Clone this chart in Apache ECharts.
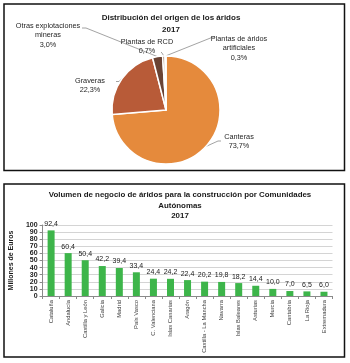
<!DOCTYPE html>
<html><head><meta charset="utf-8">
<script src="https://cdn.jsdelivr.net/npm/echarts@6/dist/echarts.min.js"></script>
<style>html,body{margin:0;padding:0;background:#fff}#c{width:350px;height:363px}</style>
</head><body><div id="c"></div>
<script>
// ---- data ----
const pieNames = ['Canteras', 'Graveras', 'Otras explotaciones\nmineras', 'Plantas de RCD', 'Plantas de áridos\nartificiales'];
const pieValues = [73.7, 22.3, 3.0, 0.7, 0.3];
const pieColors = ['#E58A3C', '#B85B38', '#6A4334', '#8E6A55', '#D8A878'];

const barCategories = ['Cataluña', 'Andalucía', 'Castilla y León', 'Galicia', 'Madrid', 'País Vasco', 'C. Valenciana', 'Islas Canarias', 'Aragón', 'Castilla - La Mancha', 'Navarra', 'Islas Baleares', 'Asturias', 'Murcia', 'Cantabria', 'La Rioja', 'Extremadura'];
const barValues = [92.4, 60.4, 50.4, 42.2, 39.4, 33.4, 24.4, 24.2, 22.4, 20.2, 19.8, 18.2, 14.4, 10.0, 7.0, 6.5, 6.0];
const yMin = 0, yMax = 100, yStep = 10;

// ---- label placement (layout only) ----
const pieLabelPos = [
  {x: 239, y: 141.5, bend: [218, 141], end: [221, 141]},
  {x: 90, y: 85.5, bend: [119, 81.5], end: [116, 81.5]},
  {x: 48, y: 35, bend: [86, 28], end: [82, 28]},
  {x: 147, y: 46.5, bend: [162, 53], end: [161, 52]},
  {x: 239, y: 48, bend: [213, 37], end: [215, 37]}
];

const FONT = "'Liberation Sans Narrow', 'Liberation Sans', sans-serif";
const fmt = v => v.toFixed(1).replace('.', ',');

const chart = echarts.init(document.getElementById('c'), null, {renderer: 'canvas'});
chart.setOption({
  backgroundColor: '#fff',
  animation: false,
  textStyle: {fontFamily: FONT},
  graphic: [
    {type: 'rect', shape: {x: 4, y: 4, width: 340.5, height: 166.5}, style: {fill: 'none', stroke: '#111', lineWidth: 1.5}, silent: true},
    {type: 'rect', shape: {x: 4, y: 184, width: 340.5, height: 173}, style: {fill: 'none', stroke: '#111', lineWidth: 1.5}, silent: true}
  ],
  title: [
    {text: 'Distribución del origen de los áridos\n2017', left: 166, top: 7, textAlign: 'center',
     textStyle: {fontFamily: FONT, fontSize: 8, fontWeight: 'bold', color: '#1a1a1a', lineHeight: 12}},
    {text: 'Volumen de negocio de áridos para la construcción por Comunidades\nAutónomas\n2017', left: 175, top: 185, textAlign: 'center',
     textStyle: {fontFamily: FONT, fontSize: 7.9, fontWeight: 'bold', color: '#1a1a1a', lineHeight: 10.5}}
  ],
  grid: {left: 40.5, right: 17.5, top: 225, bottom: 67, containLabel: false},
  xAxis: {
    type: 'category', data: barCategories,
    axisLine: {lineStyle: {color: '#8a8a8a', width: 1}},
    axisTick: {show: true, alignWithLabel: false, length: 3, lineStyle: {color: '#8a8a8a'}},
    axisLabel: {interval: 0, rotate: 90, fontSize: 5.8, color: '#404040', margin: 4, fontFamily: FONT}
  },
  yAxis: {
    type: 'value', min: yMin, max: yMax, interval: yStep,
    name: 'Millones de Euros', nameLocation: 'middle', nameGap: 24, nameRotate: 90,
    nameTextStyle: {fontFamily: FONT, fontSize: 7, fontWeight: 'bold', color: '#1a1a1a'},
    axisLine: {show: true, lineStyle: {color: '#8a8a8a', width: 1}},
    axisTick: {show: true, length: 3, lineStyle: {color: '#8a8a8a'}},
    axisLabel: {fontSize: 7, fontWeight: 'bold', color: '#1a1a1a', margin: 5, fontFamily: FONT},
    splitLine: {lineStyle: {color: '#d4d4d4', width: 1}}
  },
  series: [
    {
      type: 'pie', center: [166, 110], radius: 54, startAngle: 90, clockwise: true,
      avoidLabelOverlap: false,
      data: pieNames.map((n, i) => ({name: n, value: pieValues[i], itemStyle: {color: pieColors[i]}})),
      itemStyle: {borderColor: '#fff', borderWidth: 1.5},
      label: {show: true, position: 'outside', formatter: p => p.name + '\n' + fmt(p.value) + '%',
              fontFamily: FONT, fontSize: 7.3, color: '#262626', lineHeight: 9.5, align: 'center'},
      labelLine: {show: true, length: 5, length2: 5, lineStyle: {color: '#8c8c8c', width: 0.8}},
      labelLayout: function (p) {
        const L = pieLabelPos[p.dataIndex];
        const out = {x: L.x, y: L.y, align: 'center', verticalAlign: 'middle'};
        if (p.labelLinePoints && p.labelLinePoints.length) {
          out.labelLinePoints = [p.labelLinePoints[0], L.bend, L.end];
        }
        return out;
      },
      emphasis: {disabled: true}
    },
    {
      type: 'bar', data: barValues, barWidth: 7,
      itemStyle: {color: '#3DB54A'},
      label: {show: true, position: 'top', distance: 3, formatter: p => fmt(p.value),
              fontFamily: FONT, fontSize: 7, color: '#1a1a1a'},
      emphasis: {disabled: true}
    }
  ]
});
</script>
</body></html>
